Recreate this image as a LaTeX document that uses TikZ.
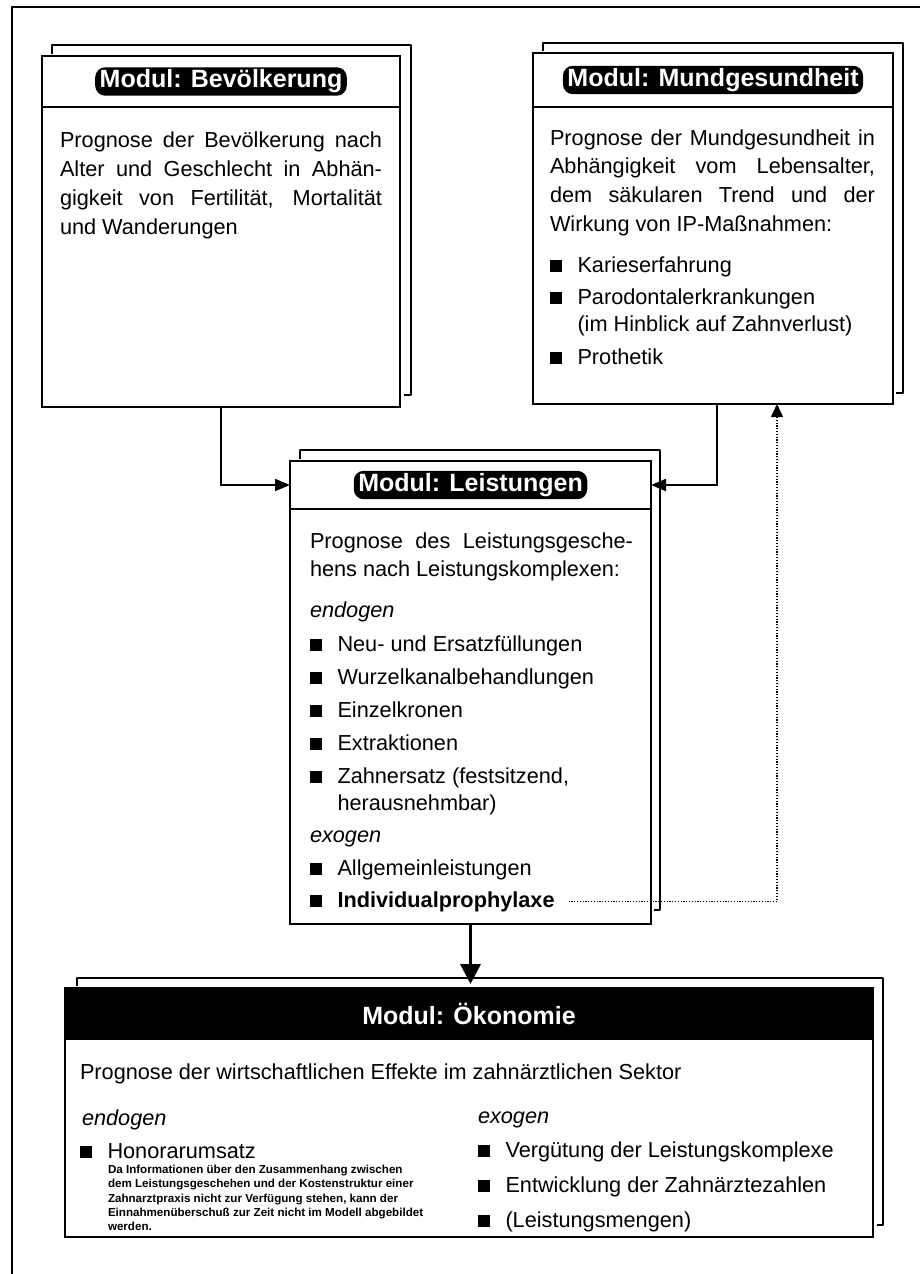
\documentclass[tikz,border=0pt]{standalone}
\usepackage{fontspec}
\setmainfont{Liberation Sans}
\usetikzlibrary{arrows.meta}

\newcommand\bodyfont{\fontsize{21.7}{29}\selectfont}
\newcommand\smallfont{\fontsize{11.6}{14}\selectfont\bfseries}
\newcommand\sqbul{\rule[0.5pt]{11.5pt}{11.5pt}}
\newcommand\bl[1]{\makebox[27.5pt][l]{\sqbul}#1}

\tikzset{
  front/.style={draw, line width=1.6pt, inner sep=0pt, outer sep=0pt, anchor=north west, fill=white},
  shadowline/.style={line width=2.6pt, line join=round},
  sepline/.style={line width=1.4pt},
  hdr/.style={inner sep=0pt, outer sep=0pt, anchor=north west, font=\fontsize{25}{30}\selectfont\bfseries},
  blob/.style={fill=black, text=white, rounded corners=10pt, inner xsep=4.5pt, inner ysep=2.5pt,
               font=\fontsize{25}{30}\selectfont\bfseries},
  txt/.style={anchor=base west, inner sep=0pt, outer sep=0pt, font=\bodyfont},
  smalltxt/.style={anchor=base west, inner sep=0pt, outer sep=0pt, font=\smallfont},
  conn/.style={line width=1.8pt, -{Triangle[length=15pt,width=12pt]}},
  bigconn/.style={line width=3.5pt, -{Triangle[length=20pt,width=20pt]}},
  dotconn/.style={line width=1.4pt, dash pattern=on 1.2pt off 1.6pt, -{Triangle[length=13pt,width=12pt]}},
}

\begin{document}
\begin{tikzpicture}[x=1pt,y=-1pt]
\useasboundingbox (0,0) rectangle (920,1274);

% outer frame
\draw[line width=1.8pt] (925,7) -- (12,7) -- (12,1280);

% shadows (pages behind)
\draw[shadowline] (52,54) -- (52,45) -- (411,45) -- (411,395) -- (404,395);
\draw[shadowline] (543,51) -- (543,43) -- (903,43) -- (903,393) -- (896,393);
\draw[shadowline] (300,459) -- (300,450) -- (660,450) -- (660,910) -- (654,910);
\draw[shadowline] (77,986) -- (77,978) -- (883,978) -- (883,1225) -- (877,1225);

% front boxes
\node[front, minimum width=358pt, minimum height=351pt] (b1) at (42,56) {};
\node[front, minimum width=360pt, minimum height=351pt] (b2) at (533,53) {};
\node[front, minimum width=361pt, minimum height=463pt] (b3) at (290,461) {};
\node[front, minimum width=808pt, minimum height=249pt] (b4) at (65,988) {};

% headers
\node[hdr, minimum width=358pt, minimum height=51pt] (h1) at (42,56) {};
\node[blob] (h1t) at (h1.center) {Modul: Bevölkerung};
\draw[sepline] (42,107) -- (400,107);
\node[hdr, minimum width=360pt, minimum height=54pt] (h2) at (533,53) {};
\node[blob] (h2t) at (h2.center) {Modul: Mundgesundheit};
\draw[sepline] (533,107) -- (893,107);
\node[hdr, minimum width=361pt, minimum height=48pt] (h3) at (290,461) {};
\node[blob] (h3t) at (h3.center) {Modul: Leistungen};
\draw[sepline] (290,509) -- (651,509);
\node[hdr, fill=black, text=white, minimum width=808pt, minimum height=52pt] (h4) at (65,988) {Modul: Ökonomie};

% box 1 text
\node[txt] (t1a) at (60,147) {\makebox[322pt][s]{Prognose der Bevölkerung nach}};
\node[txt] (t1b) at (60,176) {\makebox[322pt][s]{Alter und Geschlecht in Abhän-}};
\node[txt] (t1c) at (60,205) {\makebox[322pt][s]{gigkeit von Fertilität, Mortalität}};
\node[txt] (t1d) at (60,234) {und Wanderungen};

% box 2 text
\node[txt] (t2a) at (550,145) {\makebox[325pt][s]{Prognose der Mundgesundheit in}};
\node[txt] (t2b) at (550,173) {\makebox[325pt][s]{Abhängigkeit vom Lebensalter,}};
\node[txt] (t2c) at (550,202) {\makebox[325pt][s]{dem säkularen Trend und der}};
\node[txt] (t2d) at (550,231) {Wirkung von IP-Maßnahmen:};
\node[txt] (t2e) at (550,272) {\bl{Karieserfahrung}};
\node[txt] (t2f) at (550,304) {\bl{Parodontalerkrankungen}};
\node[txt] (t2g) at (577.5,331) {(im Hinblick auf Zahnverlust)};
\node[txt] (t2h) at (550,364) {\bl{Prothetik}};

% box 3 text
\node[txt] (t3a) at (310,548) {\makebox[323pt][s]{Prognose des Leistungsgesche-}};
\node[txt] (t3b) at (310,576) {hens nach Leistungskomplexen:};
\node[txt] (t3c) at (310,617) {\itshape endogen};
\node[txt] (t3d) at (310,651) {\bl{Neu- und Ersatzfüllungen}};
\node[txt] (t3e) at (310,684) {\bl{Wurzelkanalbehandlungen}};
\node[txt] (t3f) at (310,717) {\bl{Einzelkronen}};
\node[txt] (t3g) at (310,750) {\bl{Extraktionen}};
\node[txt] (t3h) at (310,783) {\bl{Zahnersatz (festsitzend,}};
\node[txt] (t3i) at (337.5,810) {herausnehmbar)};
\node[txt] (t3j) at (310,842) {\itshape exogen};
\node[txt] (t3k) at (310,875) {\bl{Allgemeinleistungen}};
\node[txt] (ip) at (310,907) {\bl{\bfseries Individualprophylaxe}};

% box 4 text
\node[txt] (t4a) at (80,1079) {Prognose der wirtschaftlichen Effekte im zahnärztlichen Sektor};
\node[txt] (t4b) at (82,1125) {\itshape endogen};
\node[txt] (t4c) at (80,1158) {\bl{Honorarumsatz}};
\node[smalltxt] (s1) at (108,1173) {Da Informationen über den Zusammenhang zwischen};
\node[smalltxt] (s2) at (108,1187) {dem Leistungsgeschehen und der Kostenstruktur einer};
\node[smalltxt] (s3) at (108,1202) {Zahnarztpraxis nicht zur Verfügung stehen, kann der};
\node[smalltxt] (s4) at (108,1216) {Einnahmenüberschuß zur Zeit nicht im Modell abgebildet};
\node[smalltxt] (s5) at (108,1230) {werden.};
\node[txt] (t4d) at (478,1123) {\itshape exogen};
\node[txt] (t4e) at (478,1157) {\bl{Vergütung der Leistungskomplexe}};
\node[txt] (t4f) at (478,1192) {\bl{Entwicklung der Zahnärztezahlen}};
\node[txt] (t4g) at (478,1227) {\bl{(Leistungsmengen)}};

% connectors
\coordinate (dp) at (777,0);
\draw[conn] (b1.south) |- (h3.west);
\draw[conn] ([xshift=4pt]b2.south) |- (h3.east);
\draw[bigconn, shorten >=4pt] (b3.south) -- (b3.south |- b4.north);
\draw[dotconn] ([xshift=14pt]ip.east) -| (dp |- b2.south);
\end{tikzpicture}
\end{document}
